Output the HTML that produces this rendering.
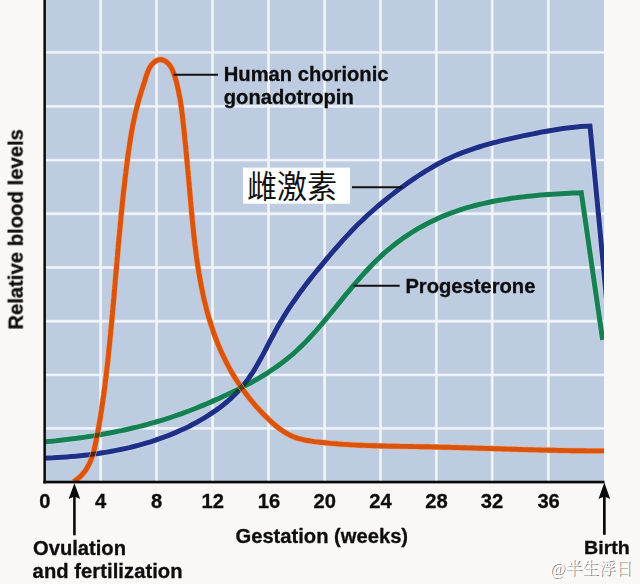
<!DOCTYPE html>
<html><head><meta charset="utf-8"><title>Hormone levels during gestation</title>
<style>html,body{margin:0;padding:0;background:#f9f8f6;}body{width:640px;height:584px;overflow:hidden;position:relative;font-family:"Liberation Sans",sans-serif;}</style>
</head><body>
<svg width="640" height="584" viewBox="0 0 640 584" style="position:absolute;left:0;top:0">
<defs>
<clipPath id="plot"><rect x="44" y="0" width="560" height="483"/></clipPath>
<path id="po" d="M73.6 481.6L76.1 480.0L78.4 478.2L80.6 476.3L82.5 474.2L84.3 472.1L85.9 469.9L87.3 467.6L88.6 465.2L89.8 462.7L90.9 460.2L91.8 457.6L92.7 455.0L93.5 452.3L94.2 449.6L94.8 446.9L95.4 444.1L96.0 441.4L96.5 438.6L97.1 435.8L97.6 433.0L98.1 430.3L98.6 427.5L99.1 424.7L99.6 422.0L100.0 419.2L100.5 416.5L100.9 413.7L101.4 410.9L101.8 408.2L102.2 405.4L102.6 402.6L103.0 399.9L103.4 397.1L103.8 394.3L104.1 391.6L104.5 388.8L104.9 386.1L105.2 383.3L105.5 380.5L105.9 377.8L106.2 375.0L106.5 372.2L106.8 369.5L107.2 366.7L107.5 363.9L107.8 361.2L108.1 358.4L108.4 355.6L108.6 352.9L108.9 350.1L109.2 347.3L109.5 344.6L109.8 341.8L110.0 339.0L110.3 336.2L110.6 333.5L110.8 330.7L111.1 327.9L111.4 325.1L111.6 322.4L111.9 319.6L112.1 316.8L112.4 314.0L112.6 311.3L112.9 308.5L113.1 305.7L113.4 302.9L113.6 300.2L113.9 297.4L114.1 294.6L114.3 291.8L114.6 289.0L114.8 286.3L115.1 283.5L115.3 280.7L115.5 277.9L115.8 275.1L116.0 272.4L116.3 269.6L116.5 266.8L116.7 264.0L117.0 261.2L117.2 258.5L117.5 255.7L117.7 252.9L117.9 250.1L118.2 247.3L118.4 244.6L118.7 241.8L118.9 239.0L119.2 236.2L119.5 233.4L119.7 230.7L120.0 227.9L120.2 225.1L120.5 222.3L120.8 219.5L121.0 216.7L121.3 214.0L121.6 211.2L121.9 208.4L122.2 205.6L122.4 202.8L122.7 200.1L123.0 197.3L123.3 194.5L123.6 191.7L123.9 189.0L124.3 186.2L124.6 183.4L124.9 180.6L125.2 177.8L125.5 175.1L125.9 172.3L126.2 169.5L126.6 166.7L126.9 164.0L127.3 161.2L127.6 158.4L128.0 155.7L128.4 152.9L128.8 150.1L129.2 147.3L129.6 144.6L130.0 141.8L130.4 139.1L130.9 136.3L131.3 133.5L131.8 130.8L132.3 128.1L132.8 125.3L133.4 122.6L133.9 119.9L134.5 117.2L135.1 114.4L135.7 111.7L136.4 109.0L137.1 106.4L137.8 103.7L138.5 101.0L139.3 98.4L140.1 95.7L140.9 93.1L141.7 90.4L142.6 87.8L143.4 85.1L144.3 82.4L145.1 79.7L145.9 77.0L146.8 74.3L147.8 71.6L148.9 69.1L150.3 66.6L152.0 64.3L154.0 62.3L156.2 60.7L158.7 59.8L161.3 59.6L163.9 60.3L166.3 61.7L168.4 63.7L170.2 65.9L171.7 68.3L172.9 70.9L173.8 73.5L174.7 76.2L175.5 78.9L176.3 81.6L177.0 84.3L177.6 87.0L178.2 89.8L178.8 92.5L179.3 95.3L179.9 98.0L180.3 100.8L180.8 103.5L181.2 106.3L181.6 109.1L181.9 111.8L182.3 114.6L182.6 117.4L182.9 120.1L183.2 122.9L183.5 125.7L183.8 128.5L184.1 131.2L184.4 134.0L184.7 136.8L184.9 139.5L185.2 142.3L185.5 145.0L185.8 147.8L186.0 150.5L186.3 153.3L186.5 156.1L186.8 158.8L187.1 161.6L187.3 164.3L187.6 167.1L187.8 169.8L188.1 172.6L188.3 175.4L188.6 178.1L188.8 180.9L189.1 183.7L189.3 186.4L189.6 189.2L189.8 192.0L190.0 194.8L190.3 197.6L190.5 200.3L190.8 203.1L191.0 205.9L191.3 208.7L191.5 211.5L191.8 214.3L192.1 217.1L192.3 219.9L192.6 222.7L192.9 225.5L193.2 228.3L193.4 231.1L193.7 233.9L194.0 236.7L194.4 239.5L194.7 242.3L195.0 245.1L195.4 247.9L195.7 250.7L196.1 253.5L196.4 256.3L196.8 259.0L197.2 261.8L197.6 264.6L198.0 267.4L198.5 270.1L198.9 272.9L199.4 275.7L199.9 278.4L200.4 281.2L200.9 283.9L201.4 286.7L202.0 289.4L202.5 292.1L203.1 294.9L203.7 297.6L204.3 300.3L205.0 303.0L205.7 305.7L206.3 308.4L207.0 311.1L207.8 313.8L208.5 316.4L209.3 319.1L210.1 321.7L210.9 324.4L211.8 327.0L212.6 329.6L213.5 332.2L214.5 334.8L215.4 337.4L216.4 340.0L217.4 342.6L218.4 345.1L219.5 347.7L220.6 350.2L221.7 352.7L222.9 355.3L224.1 357.8L225.3 360.2L226.5 362.7L227.8 365.2L229.1 367.6L230.5 370.1L231.8 372.5L233.3 374.9L234.7 377.3L236.2 379.6L237.7 382.0L239.3 384.3L240.8 386.7L242.4 389.0L244.1 391.2L245.8 393.5L247.5 395.7L249.2 398.0L251.0 400.2L252.7 402.3L254.6 404.5L256.4 406.6L258.3 408.7L260.2 410.8L262.1 412.8L264.1 414.9L266.1 416.8L268.1 418.8L270.2 420.7L272.2 422.6L274.3 424.5L276.5 426.3L278.7 428.0L280.9 429.7L283.2 431.2L285.5 432.7L287.8 434.1L290.3 435.3L292.8 436.4L295.3 437.4L297.9 438.3L300.6 439.0L303.3 439.7L306.0 440.3L308.8 440.7L311.5 441.2L314.3 441.6L317.1 441.9L319.9 442.2L322.7 442.5L325.5 442.8L328.3 443.1L331.1 443.4L333.9 443.6L336.7 443.8L339.5 444.1L342.3 444.3L345.1 444.4L347.9 444.6L350.7 444.8L353.5 444.9L356.3 445.1L359.1 445.2L361.8 445.3L364.6 445.4L367.4 445.6L370.2 445.6L373.0 445.7L375.8 445.8L378.6 445.9L381.3 446.0L384.1 446.0L386.9 446.1L389.7 446.2L392.5 446.2L395.3 446.3L398.0 446.3L400.8 446.4L403.6 446.4L406.4 446.4L409.2 446.5L412.0 446.5L414.8 446.6L417.5 446.6L420.3 446.7L423.1 446.7L425.9 446.8L428.7 446.8L431.5 446.9L434.3 447.0L437.0 447.0L439.8 447.1L442.6 447.2L445.4 447.2L448.2 447.3L451.0 447.4L453.8 447.5L456.6 447.5L459.4 447.6L462.2 447.7L464.9 447.8L467.7 447.9L470.5 447.9L473.3 448.0L476.1 448.1L478.9 448.2L481.7 448.3L484.5 448.4L487.3 448.5L490.1 448.5L492.9 448.6L495.7 448.7L498.5 448.8L501.2 448.9L504.0 449.0L506.8 449.1L509.6 449.1L512.4 449.2L515.2 449.3L518.0 449.4L520.8 449.5L523.6 449.6L526.4 449.6L529.2 449.7L532.0 449.8L534.8 449.9L537.6 449.9L540.3 450.0L543.1 450.1L545.9 450.1L548.7 450.2L551.5 450.3L554.3 450.3L557.1 450.4L559.9 450.5L562.7 450.5L565.5 450.6L568.3 450.6L571.0 450.7L573.8 450.7L576.6 450.7L579.4 450.8L582.2 450.8L585.0 450.8L587.8 450.9L590.6 450.9L593.3 450.9L596.1 450.9L598.9 450.9L601.7 450.9L604.5 450.9"/>
<path id="pb" d="M44.0 458.2L48.5 458.0L53.0 457.8L57.5 457.5L62.1 457.2L66.6 456.9L71.1 456.6L75.6 456.2L80.1 455.7L84.6 455.2L89.2 454.7L93.7 454.1L98.2 453.5L102.6 452.8L107.1 452.1L111.6 451.3L116.1 450.4L120.5 449.5L124.9 448.6L129.4 447.6L133.8 446.5L138.1 445.4L142.5 444.2L146.8 442.9L151.2 441.6L155.5 440.2L159.7 438.7L164.0 437.2L168.2 435.6L172.4 433.9L176.6 432.1L180.7 430.3L184.8 428.4L188.9 426.4L192.9 424.3L196.9 422.2L200.9 419.9L204.8 417.6L208.7 415.2L212.5 412.7L216.3 410.1L219.9 407.4L223.5 404.7L227.0 401.8L230.4 398.8L233.7 395.7L236.9 392.5L239.9 389.2L242.9 385.8L245.7 382.3L248.4 378.7L250.9 375.0L253.4 371.3L255.7 367.4L258.0 363.5L260.2 359.6L262.4 355.6L264.5 351.6L266.6 347.5L268.7 343.5L270.8 339.5L273.0 335.5L275.1 331.5L277.3 327.5L279.6 323.6L281.9 319.7L284.2 315.8L286.6 312.0L289.1 308.2L291.6 304.4L294.2 300.7L296.8 297.0L299.4 293.3L302.1 289.7L304.8 286.0L307.6 282.4L310.3 278.9L313.2 275.3L316.0 271.8L318.9 268.3L321.8 264.8L324.7 261.3L327.6 257.8L330.5 254.4L333.5 250.9L336.5 247.5L339.5 244.1L342.5 240.7L345.5 237.4L348.6 234.1L351.7 230.8L354.9 227.5L358.0 224.3L361.3 221.2L364.5 218.1L367.8 215.0L371.2 212.0L374.6 209.0L378.0 206.0L381.5 203.1L385.0 200.3L388.5 197.4L392.1 194.6L395.7 191.8L399.3 189.1L403.0 186.4L406.7 183.7L410.4 181.1L414.1 178.6L417.9 176.0L421.7 173.6L425.6 171.1L429.4 168.8L433.4 166.5L437.3 164.3L441.3 162.2L445.3 160.1L449.4 158.2L453.5 156.3L457.6 154.6L461.8 152.9L466.0 151.3L470.3 149.8L474.6 148.3L478.9 147.0L483.2 145.7L487.5 144.4L491.9 143.2L496.3 142.1L500.7 140.9L505.1 139.9L509.5 138.9L514.0 137.9L518.4 136.9L522.9 135.9L527.3 135.0L531.7 134.1L536.2 133.2L540.6 132.3L545.1 131.5L549.6 130.7L554.0 130.0L558.5 129.3L563.0 128.6L567.4 128.1L571.9 127.5L576.4 127.0L580.9 126.6L585.5 126.3L590.0 126.1L607.0 304.0"/>
<path id="pg" d="M44.0 442.0L48.1 441.6L52.2 441.2L56.3 440.8L60.4 440.3L64.5 439.8L68.6 439.3L72.7 438.8L76.8 438.3L80.9 437.7L85.0 437.1L89.1 436.5L93.2 435.9L97.2 435.2L101.3 434.5L105.4 433.8L109.4 433.0L113.5 432.2L117.6 431.4L121.6 430.6L125.6 429.7L129.7 428.8L133.7 427.8L137.7 426.9L141.7 425.8L145.7 424.8L149.7 423.7L153.6 422.6L157.6 421.5L161.6 420.3L165.5 419.1L169.4 417.8L173.3 416.5L177.2 415.2L181.1 413.8L185.0 412.4L188.8 411.0L192.7 409.5L196.5 408.0L200.3 406.4L204.1 404.9L207.9 403.3L211.7 401.6L215.5 399.9L219.3 398.3L223.0 396.5L226.8 394.8L230.5 393.0L234.2 391.2L237.9 389.4L241.6 387.5L245.3 385.6L249.0 383.7L252.6 381.7L256.2 379.7L259.8 377.6L263.3 375.5L266.8 373.3L270.3 371.0L273.7 368.8L277.1 366.4L280.4 364.0L283.7 361.5L286.9 359.0L290.1 356.4L293.2 353.8L296.3 351.0L299.3 348.2L302.2 345.4L305.1 342.5L308.0 339.5L310.8 336.5L313.6 333.4L316.4 330.4L319.1 327.2L321.8 324.1L324.4 320.9L327.1 317.7L329.7 314.5L332.3 311.3L335.0 308.1L337.6 304.9L340.2 301.7L342.8 298.4L345.4 295.2L348.0 292.0L350.7 288.9L353.3 285.7L356.0 282.5L358.7 279.4L361.4 276.3L364.2 273.2L367.0 270.2L369.8 267.2L372.6 264.3L375.5 261.3L378.5 258.5L381.5 255.7L384.5 252.9L387.6 250.2L390.8 247.6L394.0 245.0L397.2 242.5L400.6 240.0L403.9 237.6L407.4 235.3L410.8 233.0L414.3 230.8L417.9 228.7L421.5 226.7L425.1 224.7L428.8 222.8L432.5 221.0L436.2 219.2L440.0 217.5L443.8 215.9L447.6 214.4L451.4 212.9L455.3 211.5L459.2 210.2L463.1 208.9L467.0 207.7L471.0 206.6L475.0 205.5L479.0 204.5L483.0 203.6L487.0 202.7L491.1 201.8L495.1 201.0L499.2 200.3L503.3 199.6L507.4 199.0L511.5 198.3L515.6 197.8L519.7 197.2L523.8 196.8L527.9 196.3L532.0 195.9L536.2 195.5L540.3 195.1L544.4 194.8L548.5 194.5L552.7 194.2L556.8 193.9L560.9 193.7L565.0 193.5L569.1 193.3L573.2 193.1L577.2 192.9L581.3 192.7L602.6 340.0"/>
<mask id="om" maskUnits="userSpaceOnUse" x="0" y="0" width="640" height="584"><rect x="0" y="0" width="640" height="584" fill="#000"/><use href="#po" fill="none" stroke="#fff" stroke-width="4.6"/></mask>
<mask id="gm" maskUnits="userSpaceOnUse" x="0" y="0" width="640" height="584"><rect x="0" y="0" width="640" height="584" fill="#000"/><use href="#pg" fill="none" stroke="#fff" stroke-width="4.6"/></mask>
</defs>
<rect x="0" y="0" width="640" height="584" fill="#f9f8f6"/>
<rect x="44" y="0" width="560" height="482" fill="#becce2"/>
<g stroke="#dde5f0" stroke-width="2.9">
<line x1="100.6" y1="0" x2="100.6" y2="481"/>
<line x1="156.5" y1="0" x2="156.5" y2="481"/>
<line x1="212.5" y1="0" x2="212.5" y2="481"/>
<line x1="268.5" y1="0" x2="268.5" y2="481"/>
<line x1="324.6" y1="0" x2="324.6" y2="481"/>
<line x1="380.5" y1="0" x2="380.5" y2="481"/>
<line x1="436.3" y1="0" x2="436.3" y2="481"/>
<line x1="492.2" y1="0" x2="492.2" y2="481"/>
<line x1="548.4" y1="0" x2="548.4" y2="481"/>
<line x1="45" y1="52.4" x2="604" y2="52.4"/>
<line x1="45" y1="106.4" x2="604" y2="106.4"/>
<line x1="45" y1="160.1" x2="604" y2="160.1"/>
<line x1="45" y1="213.7" x2="604" y2="213.7"/>
<line x1="45" y1="267.5" x2="604" y2="267.5"/>
<line x1="45" y1="321.2" x2="604" y2="321.2"/>
<line x1="45" y1="374.9" x2="604" y2="374.9"/>
<line x1="45" y1="428.4" x2="604" y2="428.4"/>
</g>
<g stroke="#f2f5fa" stroke-width="1.9">
<line x1="100.6" y1="0" x2="100.6" y2="481"/>
<line x1="156.5" y1="0" x2="156.5" y2="481"/>
<line x1="212.5" y1="0" x2="212.5" y2="481"/>
<line x1="268.5" y1="0" x2="268.5" y2="481"/>
<line x1="324.6" y1="0" x2="324.6" y2="481"/>
<line x1="380.5" y1="0" x2="380.5" y2="481"/>
<line x1="436.3" y1="0" x2="436.3" y2="481"/>
<line x1="492.2" y1="0" x2="492.2" y2="481"/>
<line x1="548.4" y1="0" x2="548.4" y2="481"/>
<line x1="45" y1="52.4" x2="604" y2="52.4"/>
<line x1="45" y1="106.4" x2="604" y2="106.4"/>
<line x1="45" y1="160.1" x2="604" y2="160.1"/>
<line x1="45" y1="213.7" x2="604" y2="213.7"/>
<line x1="45" y1="267.5" x2="604" y2="267.5"/>
<line x1="45" y1="321.2" x2="604" y2="321.2"/>
<line x1="45" y1="374.9" x2="604" y2="374.9"/>
<line x1="45" y1="428.4" x2="604" y2="428.4"/>
</g>
<g fill="none" stroke-linejoin="miter" stroke-linecap="butt" stroke-miterlimit="10" clip-path="url(#plot)">
<use href="#pb" stroke="#d6dcf3" stroke-width="6.4" opacity="0.7"/>
<use href="#pg" stroke="#b9ead8" stroke-width="6.4" opacity="0.7"/>
<use href="#pb" stroke="#1e2f87" stroke-width="5"/>
<use href="#pg" stroke="#177f54" stroke-width="5"/>
<g mask="url(#gm)" opacity="0.75"><use href="#pb" stroke="#0c2230" stroke-width="4.6"/></g>
<use href="#po" stroke="#f3a878" stroke-width="6"/>
<use href="#po" stroke="#d9540e" stroke-width="4.9"/>
<g mask="url(#om)" opacity="0.8">
<use href="#pb" stroke="#2a1320" stroke-width="4.6"/>
<use href="#pg" stroke="#33401a" stroke-width="4.6"/>
</g>
</g>
<rect x="43.4" y="0" width="2.5" height="483.4" fill="#0a0a0a"/>
<rect x="43.3" y="480.7" width="561.2" height="2.7" fill="#0a0a0a"/>
<g stroke="#111" stroke-width="2">
<line x1="173.6" y1="74.8" x2="218" y2="74.8"/>
<line x1="352" y1="187.3" x2="402.5" y2="187.3"/>
<line x1="353.6" y1="285.8" x2="399.7" y2="285.8"/>
</g>
<g fill="#0a0a0a">
<rect x="73.1" y="495" width="2.6" height="40.3"/>
<path d="M74.4 483.2 L80.2 498.9 L74.4 496.6 L68.6 498.9 Z"/>
<rect x="603.0" y="495" width="2.7" height="39.8"/>
<path d="M604.35 482.6 L610.2 498.9 L604.35 496.6 L598.5 498.9 Z"/>
</g>
<rect x="243" y="167.6" width="107.1" height="36.1" fill="#ffffff"/>
<text transform="translate(246.90 197.80) scale(1 1.047)" x="0" y="0" font-family="Liberation Sans, Noto Sans CJK SC, sans-serif" font-size="30px" fill="#111">雌激素</text>
<text x="551" y="574.6" font-family="Liberation Serif, Noto Serif CJK SC, serif" font-size="16.8px" fill="#6e6e6e" opacity="0.85" textLength="82.5" lengthAdjust="spacingAndGlyphs">@半生浮日</text>
<text x="550" y="573.6" font-family="Liberation Serif, Noto Serif CJK SC, serif" font-size="16.8px" fill="#ffffff" textLength="82.5" lengthAdjust="spacingAndGlyphs">@半生浮日</text>
<g font-family="Liberation Sans, sans-serif" font-weight="bold" font-size="19.4px" fill="#0c0c0c" stroke="#0c0c0c" stroke-width="0.3" opacity="0.995">
<text transform="translate(44.8 507.9) scale(1.040 1)" text-anchor="middle" >0</text>
<text transform="translate(100.7 507.9) scale(1.040 1)" text-anchor="middle" >4</text>
<text transform="translate(156.7 507.9) scale(1.040 1)" text-anchor="middle" >8</text>
<text transform="translate(212.8 507.9) scale(1.040 1)" text-anchor="middle" >12</text>
<text transform="translate(268.9 507.9) scale(1.040 1)" text-anchor="middle" >16</text>
<text transform="translate(324.7 507.9) scale(1.040 1)" text-anchor="middle" >20</text>
<text transform="translate(380.5 507.9) scale(1.040 1)" text-anchor="middle" >24</text>
<text transform="translate(436.5 507.9) scale(1.040 1)" text-anchor="middle" >28</text>
<text transform="translate(492.0 507.9) scale(1.040 1)" text-anchor="middle" >32</text>
<text transform="translate(548.6 507.9) scale(1.040 1)" text-anchor="middle" >36</text>
<text transform="translate(223.8 81.3) scale(1.040 1)" text-anchor="start" >Human chorionic</text>
<text transform="translate(223.8 103.8) scale(1.040 1)" text-anchor="start" >gonadotropin</text>
<text transform="translate(405.4 293.1) scale(1.040 1)" text-anchor="start" >Progesterone</text>
<text transform="translate(235.5 542.8) scale(1.040 1)" text-anchor="start" >Gestation (weeks)</text>
<text transform="translate(33.0 554.8) scale(1.040 1)" text-anchor="start" >Ovulation</text>
<text transform="translate(32.6 577.6) scale(1.040 1)" text-anchor="start" textLength="144.2">and fertilization</text>
<text transform="translate(584.0 554.3) scale(1.040 1)" text-anchor="start" font-size="18.9px">Birth</text>
<text transform="translate(22.7 329.7) rotate(-90)" x="0" y="0" font-size="20.3px">Relative blood levels</text>
</g>
</svg>
</body></html>
